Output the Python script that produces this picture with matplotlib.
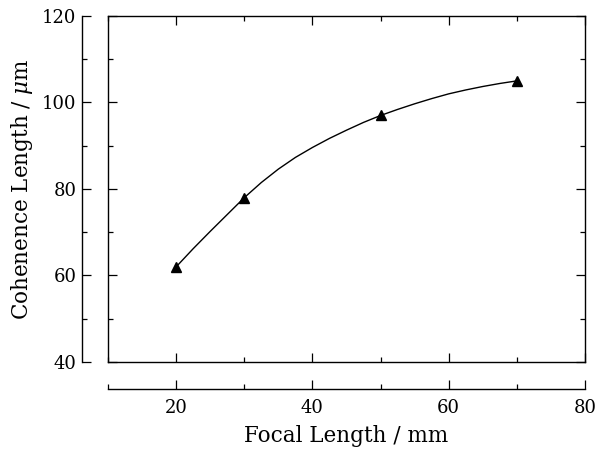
import numpy as np
import matplotlib
matplotlib.use('Agg')
import matplotlib.pyplot as plt
from matplotlib.ticker import MultipleLocator

plt.rcParams['font.family'] = 'DejaVu Serif'
plt.rcParams['mathtext.fontset'] = 'dejavuserif'

# measured points
focal = [20, 30, 50, 70]
coh = [62, 78, 97, 105]

# smooth curve
curve_x = [20, 22.5, 25, 27.5, 30, 32.5, 35, 37.5, 40, 42.5, 45, 47.5, 50,
           52.5, 55, 57.5, 60, 62.5, 65, 67.5, 70]
curve_y = [62, 66.2, 70.2, 74.1, 78, 81.5, 84.6, 87.3, 89.6, 91.7, 93.6, 95.4, 97,
           98.4, 99.7, 100.9, 102.0, 102.9, 103.7, 104.4, 105]

XLIM = (10, 80)
YLIM = (40, 120)

W, H = 595, 451
fig = plt.figure(figsize=(W / 100, H / 100), dpi=100)
rect = [108 / W, 1 - 362 / H, (585 - 108) / W, (362 - 16) / H]

# box with inward ticks, no labels
ax = fig.add_axes(rect)
ax.plot(curve_x, curve_y, color='black', lw=1.0)
ax.plot(focal, coh, linestyle='none', marker='^', color='black', ms=7.5)
ax.set_xlim(*XLIM)
ax.set_ylim(*YLIM)
for a in (ax.xaxis, ax.yaxis):
    a.set_major_locator(MultipleLocator(20))
    a.set_minor_locator(MultipleLocator(10))
ax.tick_params(which='both', direction='in', top=True, right=True,
               labelbottom=False, labelleft=False, width=0.9)
ax.tick_params(which='major', length=6.5)
ax.tick_params(which='minor', length=3.5)
for s in ax.spines.values():
    s.set_linewidth(1.0)

# detached axes carrying the labels
ax2 = fig.add_axes(rect)
ax2.patch.set_visible(False)
ax2.set_xlim(*XLIM)
ax2.set_ylim(*YLIM)
for a in (ax2.xaxis, ax2.yaxis):
    a.set_major_locator(MultipleLocator(20))
    a.set_minor_locator(MultipleLocator(10))
ax2.spines['top'].set_visible(False)
ax2.spines['right'].set_visible(False)
ax2.spines['left'].set_position(('outward', 26 * 0.72))
ax2.spines['bottom'].set_position(('outward', 27 * 0.72))
for s in ('left', 'bottom'):
    ax2.spines[s].set_linewidth(1.0)
ax2.tick_params(which='both', direction='in', width=0.9, labelsize=13)
ax2.tick_params(which='major', length=6.5)
ax2.tick_params(which='minor', length=3.5)
ax2.tick_params(axis='x', pad=7)
ax2.tick_params(axis='y', pad=4)
ax2.set_xlabel('Focal Length / mm', fontsize=15.5, labelpad=6)
ax2.set_ylabel(r'Cohenence Length / $\mu$m', fontsize=15.5, labelpad=5)

fig.savefig('out.png', dpi=100)
